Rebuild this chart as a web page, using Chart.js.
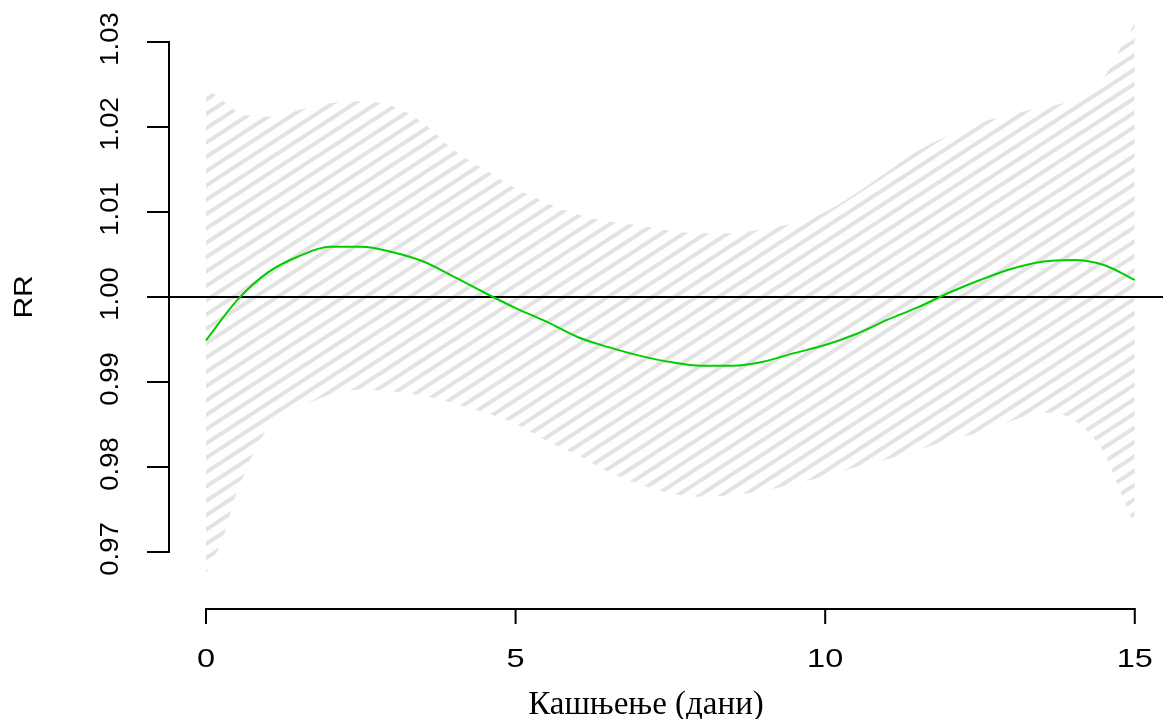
<!DOCTYPE html>
<html>
<head>
<meta charset="utf-8">
<script src="https://cdn.jsdelivr.net/npm/chart.js@4.4.1/dist/chart.umd.min.js"></script>
<style>
  html, body { margin: 0; padding: 0; background: #ffffff; }
  #wrap { width: 1163px; height: 719px; position: relative; }
</style>
</head>
<body>
<div id="wrap"><canvas id="c" width="1163" height="719"></canvas></div>
<script>
// ---- data ----
const lagRR = [0,0.5,1,1.5,2,2.5,3,3.5,4,4.5,5,5.5,6,6.5,7,7.5,8,8.5,9,9.5,10,10.5,11,11.5,12,12.5,13,13.5,14,14.5,15];
const rr = [0.9949,0.9996,1.0029,1.0048,1.0059,1.0059,1.0053,1.0042,1.0024,1.0005,0.9987,0.9971,0.9953,0.9941,0.9931,0.99235,0.99192,0.99192,0.99239,0.9934,0.99435,0.99565,0.9973,0.9988,1.0005,1.0020,1.0033,1.00416,1.00435,1.00376,1.0020];

const lagCI = [0,0.25,0.5,1,1.5,2,2.5,3,3.5,4,4.5,5,5.5,6,6.5,7,7.5,8,8.5,9,9.5,10,10.5,11,11.5,12,12.5,13,13.5,14,14.5,14.75,15];
const ciHigh = [1.0246,1.0232,1.0218,1.0212,1.0220,1.0228,1.0230,1.0225,1.0205,1.0173,1.0150,1.0128,1.0111,1.0097,1.0089,1.0084,1.0078,1.0075,1.0075,1.0080,1.0087,1.0100,1.0122,1.0147,1.0172,1.0190,1.0205,1.0215,1.0223,1.0232,1.0258,1.0290,1.0322];
const ciLow = [0.9675,0.9712,0.9770,0.9846,0.9869,0.9885,0.9891,0.9889,0.9884,0.9875,0.9864,0.9851,0.9831,0.9814,0.9794,0.9780,0.9769,0.9765,0.9767,0.9772,0.9780,0.9789,0.9800,0.9809,0.9820,0.9832,0.9841,0.9854,0.9864,0.9856,0.9817,0.9775,0.9728];

const xTicks = [0,5,10,15];
const yTicks = [0.97,0.98,0.99,1.00,1.01,1.02,1.03];
const yTickLabels = ["0.97","0.98","0.99","1.00","1.01","1.02","1.03"];
const refValue = 1.00;
const xTitle = "Кашњење (дани)";
const yTitle = "RR";

// ---- hatch pattern ----
function makeHatch(ctx) {
  const W = 44, H = 28;
  const t = document.createElement('canvas');
  t.width = W; t.height = H;
  const g = t.getContext('2d');
  g.strokeStyle = '#e3e3e3';
  g.lineWidth = 8;
  g.lineCap = 'butt';
  for (let k = -1; k <= 1; k++) {
    g.beginPath();
    g.moveTo(-W, H + k * H + H);
    g.lineTo(2 * W, k * H - H);
    g.stroke();
  }
  const p = ctx.createPattern(t, 'repeat');
  const m = new DOMMatrix().translate(0, 4.25).scale(22.05 / W, 14.33 / H);
  p.setTransform(m);
  return p;
}

const canvas = document.getElementById('c');
const ctx = canvas.getContext('2d');
const hatch = makeHatch(ctx);

function stretchedText(c, text, x, y, sx, rot) {
  c.save();
  c.translate(x, y);
  if (rot) c.rotate(rot);
  c.scale(sx, 1);
  c.fillText(text, 0, 0);
  c.restore();
}

const rPlot = {
  id: 'rPlot',
  afterDatasetDraw(chart, args) {
    if (args.index !== 1) return;
    const c = chart.ctx, a = chart.chartArea, ys = chart.scales.y;
    const py = ys.getPixelForValue(refValue);
    c.save();
    c.strokeStyle = '#000';
    c.lineWidth = 2;
    c.beginPath();
    c.moveTo(a.left, py);
    c.lineTo(a.right, py);
    c.stroke();
    c.restore();
  },
  afterDraw(chart) {
    const c = chart.ctx, a = chart.chartArea;
    const xs = chart.scales.x, ys = chart.scales.y;
    c.save();
    c.strokeStyle = '#000';
    c.lineWidth = 2;
    c.lineCap = 'square';
    // y axis
    const yTop = ys.getPixelForValue(yTicks[yTicks.length - 1]);
    const yBot = ys.getPixelForValue(yTicks[0]);
    const ax = a.left;
    c.beginPath();
    c.moveTo(ax, yTop); c.lineTo(ax, yBot);
    yTicks.forEach(v => {
      const p = ys.getPixelForValue(v);
      c.moveTo(ax - 21, p); c.lineTo(ax, p);
    });
    c.stroke();
    // x axis
    const xL = xs.getPixelForValue(xTicks[0]);
    const xR = xs.getPixelForValue(xTicks[xTicks.length - 1]);
    const ay = a.bottom;
    c.beginPath();
    c.moveTo(xL, ay); c.lineTo(xR, ay);
    xTicks.forEach(v => {
      const p = xs.getPixelForValue(v);
      c.moveTo(p, ay); c.lineTo(p, ay + 14);
    });
    c.stroke();

    c.fillStyle = '#000';
    // x tick labels
    c.font = '25px "Liberation Sans", Arial, sans-serif';
    c.textAlign = 'center';
    c.textBaseline = 'alphabetic';
    xTicks.forEach(v => {
      stretchedText(c, String(v), xs.getPixelForValue(v), 667, 1.3, 0);
    });
    // y tick labels (rotated)
    c.font = '25px "Liberation Sans", Arial, sans-serif';
    yTicks.forEach((v, i) => {
      stretchedText(c, yTickLabels[i], 118, ys.getPixelForValue(v) - 3, 1.1, -Math.PI / 2);
    });
    // y title
    c.font = '26px "Liberation Sans", Arial, sans-serif';
    stretchedText(c, yTitle, 32, ys.getPixelForValue(refValue), 1.15, -Math.PI / 2);
    // x title
    c.font = '33px "Liberation Serif", "Times New Roman", serif';
    stretchedText(c, xTitle, 646, 714, 1.0, 0);
    c.restore();
  }
};

new Chart(canvas, {
  type: 'line',
  data: {
    datasets: [
      {
        label: 'low',
        data: lagCI.map((x, i) => ({ x, y: ciLow[i] })),
        borderWidth: 0,
        pointRadius: 0,
        fill: false,
        order: 2,
        cubicInterpolationMode: 'monotone'
      },
      {
        label: 'high',
        data: lagCI.map((x, i) => ({ x, y: ciHigh[i] })),
        borderWidth: 0,
        pointRadius: 0,
        fill: '-1',
        order: 1,
        backgroundColor: hatch,
        cubicInterpolationMode: 'monotone'
      },
      {
        label: 'RR',
        data: lagRR.map((x, i) => ({ x, y: rr[i] })),
        borderColor: '#00cd00',
        borderWidth: 2,
        pointRadius: 0,
        fill: false,
        order: 0,
        cubicInterpolationMode: 'monotone'
      }
    ]
  },
  options: {
    responsive: false,
    animation: false,
    events: [],
    layout: { padding: { left: 169, right: 0, top: 10, bottom: 110 } },
    scales: {
      x: { type: 'linear', display: false, min: -0.5975, max: 15.4556 },
      y: { type: 'linear', display: false, min: 0.963294, max: 1.033765 }
    },
    plugins: {
      legend: { display: false },
      tooltip: { enabled: false },
      filler: { propagate: false }
    }
  },
  plugins: [rPlot]
});
</script>
</body>
</html>
